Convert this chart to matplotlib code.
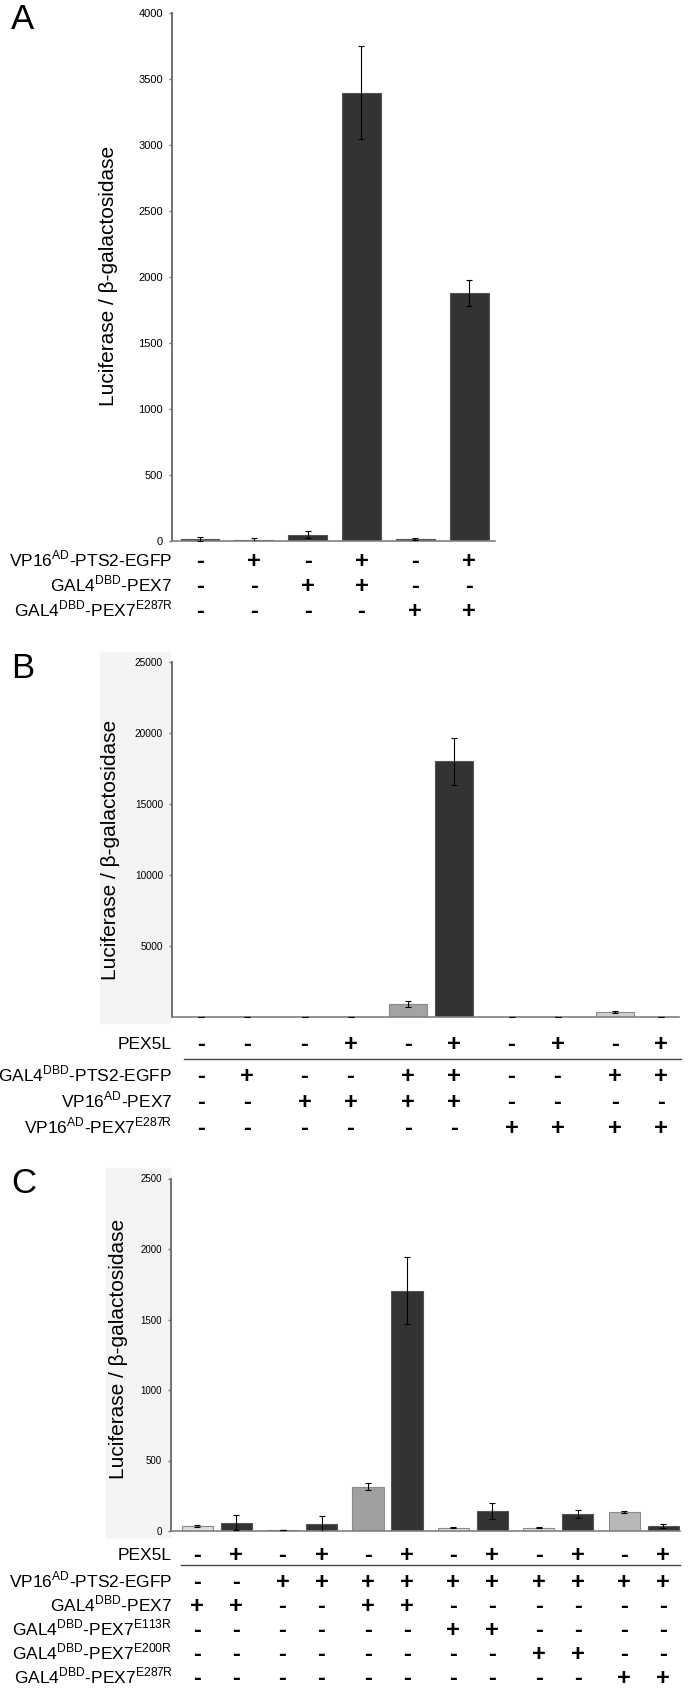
import numpy as np
import matplotlib
matplotlib.use('Agg')
import matplotlib.pyplot as plt
from matplotlib.transforms import blended_transform_factory
from matplotlib.patches import Rectangle
from matplotlib.lines import Line2D

plt.rcParams['font.family'] = ['Liberation Sans', 'DejaVu Sans']
plt.rcParams['mathtext.fontset'] = 'custom'
plt.rcParams['mathtext.rm'] = 'Liberation Sans'

# ---- panel A data ----
a_values = [14, 10, 49, 3400, 12, 1880]
a_err = [15, 14, 25, 355, 8, 100]
a_labels = ['VP16$^{\\mathrm{AD}}$-PTS2-EGFP', 'GAL4$^{\\mathrm{DBD}}$-PEX7',
            'GAL4$^{\\mathrm{DBD}}$-PEX7$^{\\mathrm{E287R}}$']
a_signs = ['-+-+-+', '--++--', '----++']
a_ticks = [0, 500, 1000, 1500, 2000, 2500, 3000, 3500, 4000]

# ---- panel B data ----
b_values = [20, 20, 15, 15, 910, 18000, 15, 15, 350, 30]
b_err = [0, 0, 0, 0, 210, 1670, 0, 0, 80, 0]
b_pex5l = '---+-+-+-+'
b_labels = ['GAL4$^{\\mathrm{DBD}}$-PTS2-EGFP', 'VP16$^{\\mathrm{AD}}$-PEX7',
            'VP16$^{\\mathrm{AD}}$-PEX7$^{\\mathrm{E287R}}$']
b_signs = ['-+--++--++', '--++++----', '------++++']
b_ticks = [5000, 10000, 15000, 20000, 25000]

# ---- panel C data ----
c_values = [35, 59, 4, 50, 314, 1705, 24, 142, 24, 121, 135, 38]
c_err = [6, 55, 0, 55, 25, 240, 6, 58, 6, 28, 8, 14]
c_pex5l = '-+-+-+-+-+-+'
c_labels = ['VP16$^{\\mathrm{AD}}$-PTS2-EGFP', 'GAL4$^{\\mathrm{DBD}}$-PEX7',
            'GAL4$^{\\mathrm{DBD}}$-PEX7$^{\\mathrm{E113R}}$',
            'GAL4$^{\\mathrm{DBD}}$-PEX7$^{\\mathrm{E200R}}$',
            'GAL4$^{\\mathrm{DBD}}$-PEX7$^{\\mathrm{E287R}}$']
c_signs = ['--++++++++++', '++--++------', '------++----',
           '--------++--', '----------++']
c_ticks = [0, 500, 1000, 1500, 2000, 2500]

# bar styles
dark = '#333333'
a_colors = [dark] * 6
b_colors = ['#cfcfcf', dark, '#cfcfcf', dark, '#a3a3a3', dark, '#cfcfcf', dark, '#cfcfcf', dark]
c_colors = ['#dcdcdc', dark, '#dcdcdc', dark, '#a0a0a0', dark, '#e0e0e0', dark, '#e0e0e0', dark, '#b8b8b8', dark]

W, H = 693, 1691
fig = plt.figure(figsize=(W / 100, H / 100), dpi=100)


def fx(px):
    return px / W


def fy(py):
    return 1 - py / H


def make_axes(left, right, top, bottom):
    ax = fig.add_axes([fx(left), fy(bottom), (right - left) / W, (bottom - top) / H])
    ax.set_facecolor('none')
    for s in ['top', 'right']:
        ax.spines[s].set_visible(False)
    ax.spines['left'].set_color('#707070')
    ax.spines['left'].set_linewidth(1.4)
    ax.spines['bottom'].set_color('#808080')
    ax.spines['bottom'].set_linewidth(1.2)
    ax.set_xticks([])
    return ax


def draw_bars(ax, x, values, err, colors, width):
    edges = ['#555555' if c == dark else '#8a8a8a' for c in colors]
    ax.bar(x, values, width, color=colors, edgecolor=edges, linewidth=0.8, zorder=2)
    ax.errorbar(x, values, yerr=err, fmt='none', ecolor='black', elinewidth=0.8,
                capsize=2, capthick=0.8, zorder=3)


def draw_table(ax, x, labels, signs, row_ys, lab_fs=12.5, sym_fs=17):
    tr = blended_transform_factory(ax.transData, fig.transFigure)
    for lab, sg, ry in zip(labels, signs, row_ys):
        fig.text(fx(172), fy(ry + 6), lab, ha='right', va='baseline', fontsize=lab_fs)
        for xi, s in zip(x, sg):
            ax.text(xi, fy(ry + 8), s, transform=tr, ha='center', va='baseline',
                    fontsize=sym_fs, fontweight='bold', clip_on=False)


# ================= A =================
ax = make_axes(172, 495, 13.5, 541)
xa = np.arange(len(a_values))
draw_bars(ax, xa, a_values, a_err, a_colors, 0.72)
ax.set_xlim(-0.52, 5.48)
ax.set_ylim(0, 4000)
ax.set_yticks(a_ticks)
ax.tick_params(axis='y', length=2.5, width=1, color='#707070', labelsize=8, pad=4)
draw_table(ax, xa, a_labels, a_signs, [560, 585, 610])
fig.text(fx(11), fy(3), 'A', fontsize=25, va='top')
fig.text(fx(108), fy(276), 'Luciferase / β-galactosidase', rotation=90,
         ha='center', va='center', fontsize=15)

# ================= B =================
fig.add_artist(Rectangle((fx(100), fy(1023)), 70 / W, 371 / H, color='#f4f4f4', zorder=0))
ax = make_axes(172, 679, 662, 1017)
xb = np.repeat(np.arange(5), 2) * 2.25 + np.tile([0, 1], 5)
draw_bars(ax, xb, b_values, b_err, b_colors, 0.83)
ax.set_xlim(-0.63, 10.39)
ax.set_ylim(0, 25000)
ax.set_yticks(b_ticks)
ax.tick_params(axis='y', length=2.5, width=1, color='#707070', labelsize=7.3, pad=4)
draw_table(ax, xb, ['PEX5L'], [b_pex5l], [1043])
fig.add_artist(Line2D([fx(184), fx(681)], [fy(1058.5)] * 2, color='#444444', lw=1))
draw_table(ax, xb, b_labels, b_signs, [1075, 1101, 1127])
fig.text(fx(11), fy(652), 'B', fontsize=25, va='top')
fig.text(fx(110), fy(850), 'Luciferase / β-galactosidase', rotation=90,
         ha='center', va='center', fontsize=15)

# ================= C =================
fig.add_artist(Rectangle((fx(106), fy(1537)), 64 / W, 369 / H, color='#f4f4f4', zorder=0))
ax = make_axes(171, 680, 1178.5, 1531)
xc = np.repeat(np.arange(6), 2) * 2.19 + np.tile([0, 1], 6)
draw_bars(ax, xc, c_values, c_err, c_colors, 0.8)
ax.set_xlim(-0.67, 12.38)
ax.set_ylim(0, 2500)
ax.set_yticks(c_ticks)
ax.tick_params(axis='y', length=2.5, width=1, color='#707070', labelsize=7, pad=4)
draw_table(ax, xc, ['PEX5L'], [c_pex5l], [1554])
fig.add_artist(Line2D([fx(181), fx(680)], [fy(1564.5)] * 2, color='#444444', lw=1))
draw_table(ax, xc, c_labels, c_signs, [1581, 1605, 1629, 1653, 1677])
fig.text(fx(11), fy(1167), 'C', fontsize=25, va='top')
fig.text(fx(119), fy(1349), 'Luciferase / β-galactosidase', rotation=90,
         ha='center', va='center', fontsize=15)

fig.savefig('out.png', dpi=100)
